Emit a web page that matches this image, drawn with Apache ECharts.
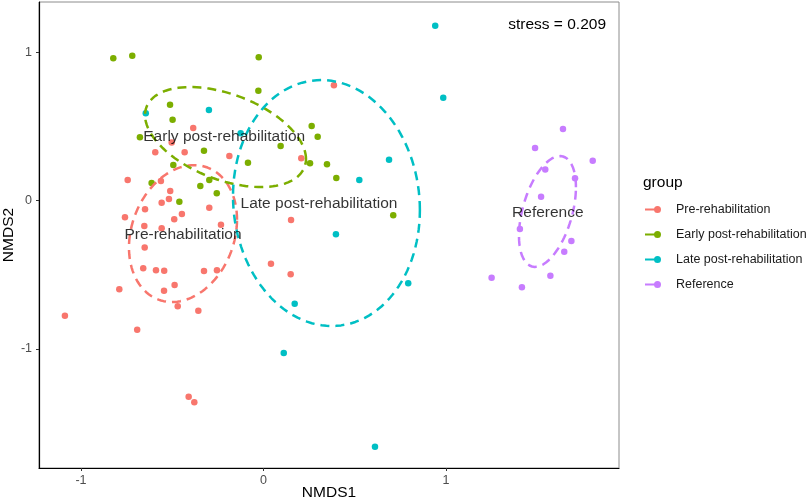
<!DOCTYPE html>
<html style="height: 100%;width:100%">
<head>
<meta charset="utf-8">
</head>
<body style="height: 100%; width:100%; margin:0">
<div id="chart-panel" style="width:809px;height:504px"></div>
<script type="text/javascript" src="https://cdn.jsdelivr.net/npm/echarts@6/dist/echarts.min.js"></script>
<script type="text/javascript">
// groups and colours (ggplot default hues)
var groups = ['Pre-rehabilitation', 'Early post-rehabilitation', 'Late post-rehabilitation', 'Reference'];
var colors = ['#F8766D', '#7CAE00', '#00BFC4', '#C77CFF'];

// NMDS scores
var preX = [-0.385, -0.503, -0.593, -0.432, -0.187, -0.744, -0.562, -0.511, -0.558, -0.518, -0.649, -0.297, -0.759, -0.489, -0.447, -0.653, -0.558, -0.233, 0.151, -0.651, -0.659, -0.589, -0.544, -0.326, -0.255, 0.041, 0.149, -0.790, -0.545, -0.487, -0.470, -0.357, -1.088, -0.692, -0.410, -0.379, 0.386, 0.207];
var preY = [0.489, 0.392, 0.325, 0.325, 0.300, 0.138, 0.131, 0.064, -0.015, 0.010, -0.059, -0.049, -0.113, -0.127, -0.091, -0.172, -0.187, -0.163, -0.131, -0.316, -0.457, -0.471, -0.473, -0.475, -0.471, -0.426, -0.498, -0.599, -0.608, -0.570, -0.713, -0.743, -0.777, -0.871, -1.323, -1.361, 0.777, 0.285];

var earlyX = [-0.823, -0.719, -0.026, -0.028, -0.512, -0.498, -0.677, -0.326, -0.494, -0.613, -0.297, -0.346, -0.256, -0.461, 0.094, -0.085, 0.264, 0.297, 0.255, 0.348, 0.399, 0.711];
var earlyY = [0.959, 0.976, 0.966, 0.740, 0.646, 0.545, 0.426, 0.336, 0.239, 0.118, 0.138, 0.098, 0.049, -0.008, 0.367, 0.255, 0.502, 0.430, 0.251, 0.244, 0.152, -0.100];

var lateX = [-0.645, -0.299, -0.125, 0.941, 0.985, 0.688, 0.525, 0.397, 0.793, 0.171, 0.111, 0.611];
var lateY = [0.588, 0.610, 0.453, 1.179, 0.693, 0.275, 0.138, -0.228, -0.558, -0.696, -1.028, -1.660];

var refX = [1.641, 1.488, 1.804, 1.544, 1.707, 1.521, 1.405, 1.687, 1.648, 1.250, 1.572, 1.416];
var refY = [0.482, 0.354, 0.268, 0.210, 0.150, 0.026, -0.192, -0.273, -0.345, -0.521, -0.507, -0.585];

// ellipse per group: centre, x half-axis, y cos / sin parts
var ellCx = [-0.441, -0.208, 0.345, 1.556];
var ellCy = [-0.223, 0.428, -0.017, -0.074];
var ellAx = [0.296, 0.441, 0.512, 0.156];
var ellBc = [0.094, -0.148, -0.047, 0.164];
var ellBs = [0.452, 0.303, 0.828, 0.336];

// group label positions
var labelX = [-0.441, -0.215, 0.304, 1.558];
var labelY = [-0.233, 0.428, -0.024, -0.084];

var tickVals = [-1, 0, 1];
var stressText = 'stress = 0.209';

var allX = [preX, earlyX, lateX, refX];
var allY = [preY, earlyY, lateY, refY];

function pairs(xs, ys) {
    var out = [];
    for (var i = 0; i < xs.length; i++) out.push([xs[i], ys[i]]);
    return out;
}

function ellipse(g) {
    var out = [];
    var n = 120;
    for (var i = 0; i <= n; i++) {
        var t = 2 * Math.PI * i / n;
        out.push([ellCx[g] + ellAx[g] * Math.cos(t),
                  ellCy[g] + ellBc[g] * Math.cos(t) + ellBs[g] * Math.sin(t)]);
    }
    return out;
}

var font = "'Liberation Sans', Arial, sans-serif";
var series = [];
for (var g = 0; g < groups.length; g++) {
    series.push({
        name: groups[g],
        type: 'scatter',
        symbolSize: 6.5,
        itemStyle: { color: colors[g], opacity: 1 },
        data: pairs(allX[g], allY[g]),
        z: 2
    });
}
for (var g = 0; g < groups.length; g++) {
    series.push({
        name: groups[g] + ' ellipse',
        type: 'line',
        showSymbol: false,
        symbol: 'none',
        smooth: false,
        lineStyle: { color: colors[g], width: 2.5, type: [9, 6] },
        data: ellipse(g),
        silent: true,
        z: 3
    });
}
var labelData = [];
for (var g = 0; g < groups.length; g++) {
    labelData.push({ value: [labelX[g], labelY[g]], name: groups[g] });
}
series.push({
    name: 'labels',
    type: 'scatter',
    symbolSize: 1,
    itemStyle: { color: 'transparent' },
    label: {
        show: true,
        position: 'inside',
        formatter: '{b}',
        color: '#000',
        fontSize: 15.5,
        fontFamily: font
    },
    data: labelData,
    z: 4
});

var dom = document.getElementById("chart-panel");
var myChart = echarts.init(dom);
var option = {
    animation: false,
    backgroundColor: '#fff',
    title: [{
        text: stressText,
        right: 198,
        top: 12,
        textStyle: { fontSize: 15.5, fontWeight: 'normal', color: '#000', fontFamily: font }
    }, {
        text: 'group',
        left: 638,
        top: 170,
        textStyle: { fontSize: 15.5, fontWeight: 'normal', color: '#000', fontFamily: font }
    }],
    legend: {
        orient: 'vertical',
        left: 640,
        top: 198,
        itemWidth: 16,
        itemHeight: 7,
        itemGap: 12,
        selectedMode: false,
        icon: 'path://M0,2.5h13v2h-13z M9,3.5a3.5,3.5 0 1,1 7,0a3.5,3.5 0 1,1 -7,0z',
        itemStyle: { borderWidth: 0 },
        textStyle: { fontSize: 12.5, color: '#1a1a1a', fontFamily: font, padding: [0, 0, 0, 10] },
        data: groups
    },
    grid: {
        left: 39,
        right: 190,
        top: 2,
        bottom: 36,
        containLabel: false,
        outerBoundsMode: 'none',
        show: true,
        borderColor: '#8c8c8c',
        borderWidth: 1
    },
    xAxis: {
        type: 'value',
        min: -1.23,
        max: 1.948,
        name: 'NMDS1',
        nameLocation: 'middle',
        nameGap: 17,
        nameMoveOverlap: false,
        nameTextStyle: { fontSize: 15.5, color: '#000', fontFamily: font },
        splitLine: { show: false },
        axisLine: { onZero: false, lineStyle: { color: '#000', width: 1.2 } },
        axisTick: { length: 3, lineStyle: { color: '#333' }, customValues: tickVals },
        axisLabel: { color: '#4d4d4d', fontSize: 12.5, margin: 6, fontFamily: font, customValues: tickVals }
    },
    yAxis: {
        type: 'value',
        min: -1.804,
        max: 1.339,
        name: 'NMDS2',
        nameLocation: 'middle',
        nameGap: 22,
        nameMoveOverlap: false,
        nameTextStyle: { fontSize: 15.5, color: '#000', fontFamily: font },
        splitLine: { show: false },
        axisLine: { show: true, onZero: false, lineStyle: { color: '#000', width: 1.2 } },
        axisTick: { show: true, length: 3, lineStyle: { color: '#333' }, customValues: tickVals },
        axisLabel: { color: '#4d4d4d', fontSize: 12.5, margin: 7, fontFamily: font, customValues: tickVals }
    },
    series: series
};
myChart.setOption(option);
</script>
</body>
</html>
